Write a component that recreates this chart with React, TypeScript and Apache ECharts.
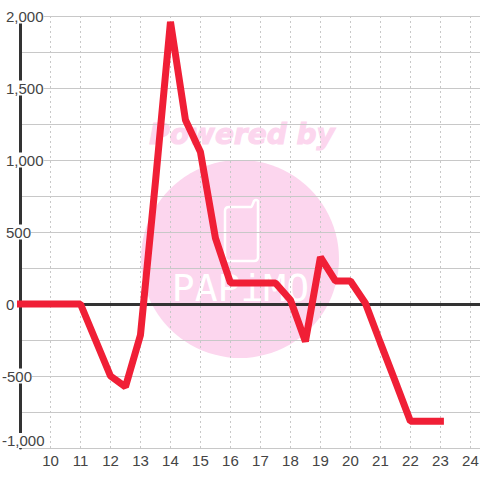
import React, { useEffect, useRef } from "react";
import * as echarts from "echarts";

const hours = [9, 10, 11, 11.5, 12, 12.5, 13, 13.5, 14, 14.5, 15, 15.5, 16, 17, 17.5, 18, 18.5, 19, 19.5, 20, 20.5, 21, 21.5, 22, 23];
const values = [0, 0, 0, -250, -500, -575, -215, 850, 1960, 1278, 1055, 458, 146, 146, 146, 28, -260, 326, 160, 160, 5, -270, -540, -815, -815];
const watermarkTitle = "Powered by";
const watermarkBrand = "PAPiMO";

echarts.graphic.registerShape(
  "phoneOutline",
  echarts.graphic.extendPath("M4 8 H26 Q27 8 29 2 Q31 0 33 2 V58 Q33 62 29 62 H4 Q0 62 0 58 V12 Q0 8 4 8 Z", {})
);

export default function App() {
  const ref = useRef<HTMLDivElement>(null);
  useEffect(() => {
    const chart = echarts.init(ref.current!, undefined, { renderer: "svg" });
    const grey = "#c8c8c8";
    const labelStyle = { color: "#444", fontSize: 15, fontFamily: "Liberation Sans", backgroundColor: "#fff" };
    chart.setOption({
      animation: false,
      backgroundColor: "#fff",
      grid: { left: 20.5, right: 0, top: 16, bottom: 32, containLabel: false, outerBoundsMode: "none" },
      xAxis: [
        {
          type: "value",
          min: 9,
          max: 24.32,
          interval: 1,
          axisLine: { show: false, onZero: false },
          axisTick: { show: false },
          axisLabel: {
            color: "#444",
            fontSize: 15,
            fontFamily: "Liberation Sans",
            margin: 5,
            showMinLabel: false,
            showMaxLabel: false,
          },
          splitLine: { show: true, lineStyle: { color: grey, type: [2, 3], width: 1 } },
        },
        {
          type: "value",
          position: "bottom",
          min: 9,
          max: 24.32,
          interval: 1,
          axisLine: { show: true, onZero: true, lineStyle: { color: "#333", width: 3 } },
          axisTick: { show: false },
          axisLabel: { show: false },
          splitLine: { show: false },
        },
      ],
      yAxis: {
        type: "value",
        min: -1000,
        max: 2000,
        interval: 500,
        minorTick: { show: false, splitNumber: 2 },
        minorSplitLine: { show: true, lineStyle: { color: grey, width: 1 } },
        axisLine: { show: true, onZero: false, lineStyle: { color: "#333", width: 3 } },
        axisTick: { show: false },
        axisLabel: {
          align: "left",
          margin: 18.5,
          verticalAlignMinLabel: "bottom",
          formatter: (v: number) => `{${v < 0 ? "neg" : "pos"}|${v.toLocaleString("en-US")}}`,
          rich: {
            neg: { ...labelStyle },
            pos: { ...labelStyle, padding: [0, 0, 0, 4] },
          },
        },
        splitLine: { show: true, lineStyle: { color: grey, width: 1 } },
      },
      graphic: {
        elements: [
          { type: "circle", z: -1, silent: true, shape: { cx: 240, cy: 259, r: 99 }, style: { fill: "#fcd6ee" } },
          {
            type: "text",
            z: -1,
            silent: true,
            x: 242,
            y: 134,
            style: {
              text: watermarkTitle,
              fill: "#fcd6ee",
              stroke: "#fcd6ee",
              lineWidth: 1,
              font: "italic bold 28px 'DejaVu Sans'",
              align: "center",
              verticalAlign: "middle",
            },
          },
          {
            type: "phoneOutline",
            z: -1,
            silent: true,
            x: 225,
            y: 199,
            style: { fill: "none", stroke: "#fff", lineWidth: 2.5 },
          },
          {
            type: "text",
            z: -1,
            silent: true,
            x: 240.5,
            y: 288,
            style: {
              text: watermarkBrand,
              fill: "#fff",
              font: "38px 'DejaVu Sans Mono'",
              align: "center",
              verticalAlign: "middle",
            },
          },
        ],
      },
      series: [
        {
          type: "line",
          xAxisIndex: 0,
          showSymbol: false,
          symbol: "none",
          data: hours.map((h, i) => [h, values[i]]),
          clip: false,
          lineStyle: { color: "#f01f36", width: 7, cap: "square", join: "bevel" },
        },
      ],
    });
    return () => chart.dispose();
  }, []);
  return <div ref={ref} style={{ position: "fixed", left: 0, top: 0, width: 480, height: 480 }} />;
}
